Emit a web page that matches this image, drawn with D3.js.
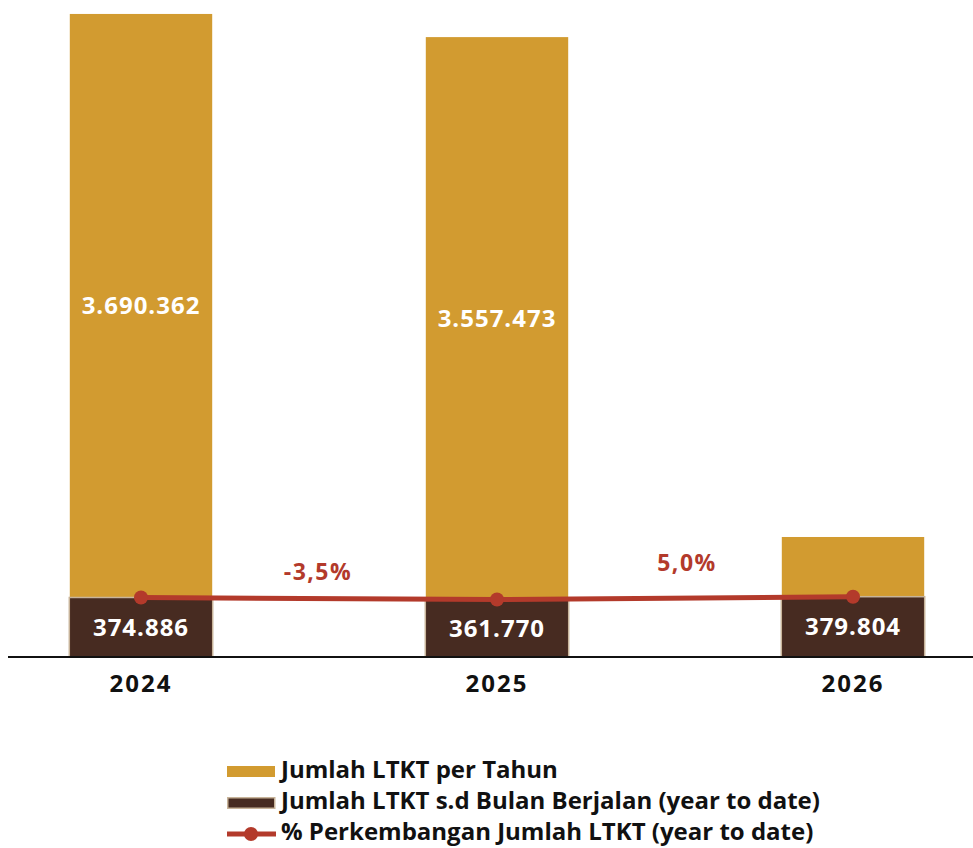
<!DOCTYPE html>
<html>
<head>
<meta charset="utf-8">
<script src="https://cdn.jsdelivr.net/npm/d3@7"></script>
<style>
  body { margin: 0; background: #fff; }
  svg text { font-family: "Open Sans", "DejaVu Sans", sans-serif; font-weight: 700; }
</style>
</head>
<body>
<div id="chart"></div>
<script>
// data
var years = ['2024', '2025', '2026'];
var totalPerYear = [3690362, 3557473, 688700];
var showTotalLabel = [true, true, false];
var ytdValues = [374886, 361770, 379804];
var pctChange = ['-3,5%', '5,0%'];
var legendLabels = [
  'Jumlah LTKT per Tahun',
  'Jumlah LTKT s.d Bulan Berjalan (year to date)',
  '% Perkembangan Jumlah LTKT (year to date)'
];

var fmt = d3.formatLocale({ decimal: ',', thousands: '.', grouping: [3], currency: ['', ''] }).format(',d');

var svgWidth = 973;
var svgHeight = 848;
var baseY = 657;

var gold = '#d29b30';
var dark = '#472b21';
var red = '#b33a2b';

var svg = d3.select('#chart')
  .append('svg')
  .attr('width', svgWidth)
  .attr('height', svgHeight);

// scales
var x = d3.scaleBand()
  .domain(years)
  .range([-37, 1031])
  .paddingInner(0.6)
  .paddingOuter(0.3);

var y = d3.scaleLinear()
  .domain([0, 4000000])
  .range([baseY, -40]);

// ytd bars sit on their own (secondary) scale
var y2 = d3.scaleLinear()
  .domain([0, 400000])
  .range([baseY, 593.5]);

var rows = years.map(function(yr, i) {
  return { year: yr, total: totalPerYear[i], ytd: ytdValues[i], showTotal: showTotalLabel[i] };
});

// gold bars
svg.selectAll('.total')
  .data(rows)
  .enter()
  .append('rect')
  .attr('class', 'total')
  .attr('x', d => x(d.year))
  .attr('y', d => y(d.total))
  .attr('width', x.bandwidth())
  .attr('height', d => baseY - y(d.total))
  .attr('fill', gold);

// dark ytd bars
svg.selectAll('.ytd')
  .data(rows)
  .enter()
  .append('rect')
  .attr('class', 'ytd')
  .attr('x', d => x(d.year) - 0.5)
  .attr('y', d => y2(d.ytd))
  .attr('width', x.bandwidth() + 1)
  .attr('height', d => baseY - y2(d.ytd))
  .attr('fill', dark)
  .attr('stroke', '#c8b49a')
  .attr('stroke-width', 1.5);

// total labels, centred in the visible gold part
svg.selectAll('.totalLabel')
  .data(rows.filter(d => d.showTotal))
  .enter()
  .append('text')
  .attr('class', 'totalLabel')
  .attr('x', d => x(d.year) + x.bandwidth() / 2)
  .attr('y', d => (y(d.total) + y2(d.ytd)) / 2)
  .attr('dy', '0.36em')
  .attr('text-anchor', 'middle')
  .attr('fill', '#fff')
  .style('font-size', '24px')
  .style('letter-spacing', '1px')
  .text(d => fmt(d.total));

// ytd labels
svg.selectAll('.ytdLabel')
  .data(rows)
  .enter()
  .append('text')
  .attr('class', 'ytdLabel')
  .attr('x', d => x(d.year) + x.bandwidth() / 2)
  .attr('y', d => (baseY + y2(d.ytd)) / 2)
  .attr('dy', '0.36em')
  .attr('text-anchor', 'middle')
  .attr('fill', '#fff')
  .style('font-size', '24px')
  .style('letter-spacing', '1px')
  .text(d => fmt(d.ytd));

// axis
var xAxis = d3.axisBottom(x).tickSize(0).tickPadding(18);
var axisG = svg.append('g')
  .attr('transform', `translate(0, ${baseY})`)
  .call(xAxis);
axisG.select('.domain').remove();
axisG.selectAll('text')
  .attr('fill', '#111')
  .style('font-size', '24px')
  .style('letter-spacing', '2px')
  .style('font-family', '"Open Sans", sans-serif')
  .style('font-weight', 700);

svg.append('line')
  .attr('x1', 8)
  .attr('x2', svgWidth)
  .attr('y1', baseY)
  .attr('y2', baseY)
  .attr('stroke', '#111')
  .attr('stroke-width', 2);

// growth line
var line = d3.line()
  .x(d => x(d.year) + x.bandwidth() / 2)
  .y(d => y2(d.ytd));

svg.append('path')
  .datum(rows)
  .attr('d', line)
  .attr('fill', 'none')
  .attr('stroke', red)
  .attr('stroke-width', 5);

svg.selectAll('.dot')
  .data(rows)
  .enter()
  .append('circle')
  .attr('class', 'dot')
  .attr('cx', d => x(d.year) + x.bandwidth() / 2)
  .attr('cy', d => y2(d.ytd))
  .attr('r', 7)
  .attr('fill', red);

// percent labels between the years
var pctPos = [{ dx: -1, y: 580 }, { dx: 12, y: 571 }];
svg.selectAll('.pct')
  .data(pctChange)
  .enter()
  .append('text')
  .attr('class', 'pct')
  .attr('x', (d, i) => (x(years[i]) + x(years[i + 1])) / 2 + x.bandwidth() / 2 + pctPos[i].dx)
  .attr('y', (d, i) => pctPos[i].y)
  .attr('text-anchor', 'middle')
  .attr('fill', red)
  .style('font-size', '23px')
  .style('letter-spacing', '1.5px')
  .text(d => d);

// legend
var legend = svg.append('g').attr('transform', 'translate(227, 0)');

legend.append('rect')
  .attr('x', 0).attr('y', 766)
  .attr('width', 48).attr('height', 11)
  .attr('fill', gold);

legend.append('rect')
  .attr('x', 0.75).attr('y', 797.75)
  .attr('width', 47).attr('height', 10.5)
  .attr('fill', dark)
  .attr('stroke', '#c8b49a')
  .attr('stroke-width', 1.5);

legend.append('line')
  .attr('x1', 0).attr('x2', 49)
  .attr('y1', 834).attr('y2', 834)
  .attr('stroke', red)
  .attr('stroke-width', 5);

legend.append('circle')
  .attr('cx', 24).attr('cy', 834).attr('r', 7)
  .attr('fill', red);

legend.selectAll('.legText')
  .data(legendLabels)
  .enter()
  .append('text')
  .attr('class', 'legText')
  .attr('x', 54)
  .attr('y', (d, i) => 778 + i * 31)
  .attr('fill', '#111')
  .style('font-size', '24px')
  .text(d => d);
</script>
</body>
</html>
